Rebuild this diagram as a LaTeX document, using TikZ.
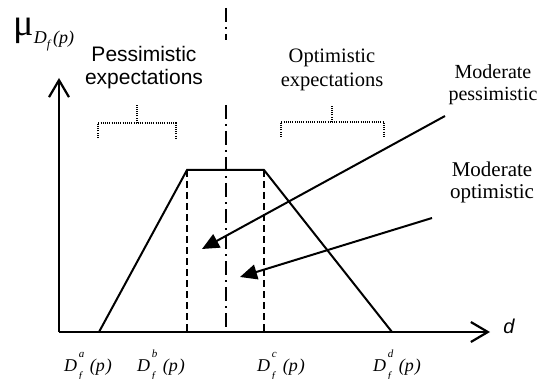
\documentclass[tikz,border=0pt]{standalone}
\usepackage{fontspec}
\setmainfont{Liberation Serif}
\newfontfamily\arialfont{Liberation Sans}
\usetikzlibrary{arrows.meta,positioning}
\newcommand{\fsz}[1]{\fontsize{#1}{#1}\selectfont}
\newcommand{\dlab}[1]{{\fsz{9}\itshape D\rlap{\raisebox{7pt}{\fsz{5.5}\,#1}}\raisebox{-4pt}{\fsz{5.5}\,f}\;\,(p\kern0.5pt)}}
\tikzset{
  axis/.style={line width=1.15pt, -{Straight Barb[length=8.5pt, width=10pt, line width=1.1pt]}},
  member/.style={line width=1pt, line join=miter},
  cut/.style={line width=0.65pt, dash pattern=on 3.5pt off 2pt},
  centre/.style={line width=0.7pt, dash pattern=on 7pt off 2.5pt on 1pt off 2.5pt},
  brace/.style={line width=0.55pt, dash pattern=on 0.5pt off 0.6pt},
  pointer/.style={line width=1pt, -{Triangle[length=8.5pt, width=7.5pt]}},
  sanslab/.style={align=left, font=\arialfont\fsz{10.5}, inner sep=0pt},
  seriflab/.style={align=center, font=\fsz{10.25}, inner sep=0pt},
  tick/.style={inner sep=0pt, anchor=base},
}

\begin{document}
\begin{tikzpicture}[x=0.5pt, y=-0.5pt]
  \useasboundingbox (0,0) rectangle (545,379);

  % axes
  \coordinate (o) at (59,332);
  \coordinate (ytop) at (59,78);
  \coordinate (xend) at (490,332);
  \draw[axis] (o) -- (ytop);
  \draw[axis] (o) -- (xend);
  \node[inner sep=0pt, anchor=base west] (mu) at (13,36)
    {\fsz{19}μ\raisebox{-4pt}{\fsz{9}\itshape D\raisebox{-2.5pt}{\fsz{6}f}\,(p)}};
  \node[inner sep=0pt] (d) at (509,326) {\arialfont\itshape\fsz{10}d};

  % membership function
  \coordinate (pa) at (99,332);
  \coordinate (pb) at (187,170);
  \coordinate (pc) at (264,170);
  \coordinate (pd) at (392,332);
  \draw[member] (pa) -- (pb) -- (pc) -- (pd);
  \draw[cut] (pb) -- (pb |- o);
  \draw[cut] (pc) -- (pc |- o);
  \draw[centre] (226,8) -- (226,40);
  \draw[centre] (226,105) -- (226,332);

  \node[tick] (la) at (88,371) {\dlab{a}};
  \node[tick] (lb) at (161,371) {\dlab{b}};
  \node[tick] (lc) at (281,371) {\dlab{c}};
  \node[tick] (ld) at (397,371) {\dlab{d}};

  % expectations
  \node[sanslab, align=center] (pess) at (144,68) {Pessimistic\\[1pt]expectations};
  \node[seriflab] (opt) at (332,70) {Optimistic\\[1.5pt]expectations};
  \draw[brace] (98,138) -- (98,123) -- (176,123) -- (176,138);
  \draw[brace] (137,123) -- (137,105);
  \draw[brace] (281,137) -- (281,122) -- (384,122) -- (384,137);
  \draw[brace] (332,122) -- (332,105);

  % moderate cases
  \node[seriflab, font=\fsz{10}] (mpess) at (493,85) {Moderate\\[1pt]pessimistic};
  \node[seriflab, font=\fsz{10.5}] (mopt) at (492,182) {Moderate\\[0.5pt]optimistic};
  \coordinate (mpfrom) at (445,116);
  \coordinate (mpto) at (202,249);
  \coordinate (mofrom) at (432,218);
  \coordinate (moto) at (240,277);
  \draw[pointer] (mpfrom) -- (mpto);
  \draw[pointer] (mofrom) -- (moto);
\end{tikzpicture}
\end{document}
